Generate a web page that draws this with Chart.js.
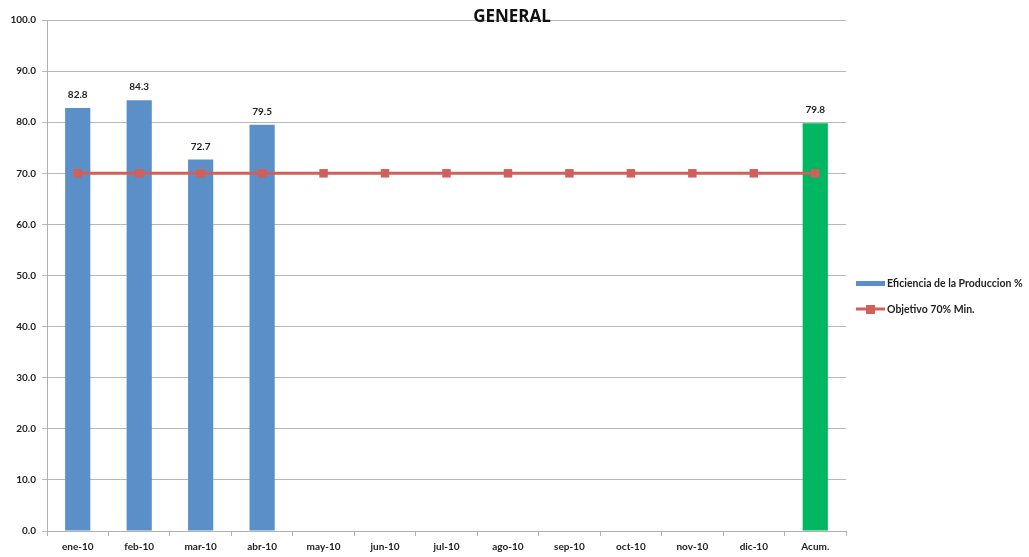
<!DOCTYPE html>
<html>
<head>
<meta charset="utf-8">
<script src="https://cdn.jsdelivr.net/npm/chart.js@4"></script>
<style>
  html, body { margin: 0; padding: 0; background: #fff; }
  #wrap { width: 1029px; height: 557px; position: relative; }
</style>
</head>
<body>
<div id="wrap"><canvas id="c" width="1029" height="557"></canvas></div>
<script>
// Monthly production efficiency, 2010, plus the accumulated figure
const categories = ['ene-10', 'feb-10', 'mar-10', 'abr-10', 'may-10', 'jun-10', 'jul-10', 'ago-10', 'sep-10', 'oct-10', 'nov-10', 'dic-10', 'Acum.'];
const eficiencia = [82.8, 84.3, 72.7, 79.5, null, null, null, null, null, null, null, null, 79.8];
const objetivo = [70, 70, 70, 70, 70, 70, 70, 70, 70, 70, 70, 70, 70];
const yTicks = [0, 10, 20, 30, 40, 50, 60, 70, 80, 90, 100];
const chartTitle = 'GENERAL';
const seriesNames = ['Eficiencia de la Produccion %', 'Objetivo 70% Min.'];

const BLUE = '#5b8fc8';
const GREEN = '#00b862';
const RED = '#d0605a';
const FONT = 'Lato, "Open Sans", sans-serif';

const barColors = categories.map((c, i) => i === categories.length - 1 ? GREEN : BLUE);

// Value labels above the bars
const valueLabels = {
  id: 'valueLabels',
  afterDatasetsDraw(chart) {
    const ctx = chart.ctx;
    const meta = chart.getDatasetMeta(0);
    ctx.save();
    ctx.font = 'bold 10px ' + FONT;
    ctx.fillStyle = '#222';
    ctx.textAlign = 'center';
    ctx.textBaseline = 'bottom';
    meta.data.forEach((bar, i) => {
      const v = eficiencia[i];
      if (v === null) return;
      ctx.fillText(v.toFixed(1), bar.x, bar.y - 8);
    });
    ctx.restore();
  }
};

// Title over the top gridline and the legend to the right of the plot
const titleAndLegend = {
  id: 'titleAndLegend',
  afterDraw(chart) {
    const ctx = chart.ctx;
    ctx.save();
    ctx.font = 'bold 17px "Open Sans", Lato, sans-serif';
    ctx.fillStyle = '#111';
    ctx.textAlign = 'center';
    ctx.textBaseline = 'alphabetic';
    ctx.fillText(chartTitle, 512, 22);

    const lx = 856, tx = 887;
    ctx.fillStyle = BLUE;
    ctx.fillRect(lx, 281, 29, 5);
    ctx.strokeStyle = RED;
    ctx.lineWidth = 3;
    ctx.beginPath();
    ctx.moveTo(lx, 309);
    ctx.lineTo(lx + 29, 309);
    ctx.stroke();
    ctx.fillStyle = RED;
    ctx.fillRect(lx + 10, 305, 9, 9);

    ctx.font = 'bold 10.5px ' + FONT;
    ctx.fillStyle = '#222';
    ctx.textAlign = 'left';
    ctx.textBaseline = 'middle';
    ctx.fillText(seriesNames[0], tx, 284);
    ctx.fillText(seriesNames[1], tx, 310);
    ctx.restore();
  }
};

new Chart(document.getElementById('c'), {
  data: {
    labels: categories,
    datasets: [
      {
        type: 'bar',
        label: seriesNames[0],
        data: eficiencia,
        backgroundColor: barColors,
        barPercentage: 0.41,
        categoryPercentage: 1,
        order: 2
      },
      {
        type: 'line',
        label: seriesNames[1],
        data: objetivo,
        borderColor: RED,
        borderWidth: 3,
        backgroundColor: RED,
        pointStyle: 'rect',
        pointRadius: 6,
        pointBorderWidth: 0,
        pointBackgroundColor: RED,
        tension: 0,
        order: 1
      }
    ]
  },
  options: {
    responsive: false,
    animation: false,
    layout: { padding: { top: 20, right: 183, left: 0, bottom: 0 } },
    plugins: {
      legend: { display: false },
      title: { display: false },
      tooltip: { enabled: false }
    },
    scales: {
      x: {
        grid: { display: true, drawOnChartArea: false, drawTicks: true, tickLength: 5, color: '#b0b0b0', offset: true },
        border: { color: '#b0b0b0', width: 1 },
        ticks: { font: { family: FONT, size: 10, weight: 'bold' }, color: '#222', padding: 5, maxRotation: 0, autoSkip: false },
        afterFit(s) { s.height = 26; }
      },
      y: {
        min: 0,
        max: 100,
        afterBuildTicks(s) { s.ticks = yTicks.map(v => ({ value: v })); },
        grid: { color: '#b8b8b8', tickLength: 5, drawTicks: true },
        border: { color: '#b0b0b0', width: 1 },
        ticks: {
          font: { family: FONT, size: 10, weight: 'bold' },
          color: '#222',
          padding: 6,
          callback: v => Number(v).toFixed(1)
        },
        afterFit(s) { s.width = 47; }
      }
    }
  },
  plugins: [valueLabels, titleAndLegend]
});
</script>
</body>
</html>
